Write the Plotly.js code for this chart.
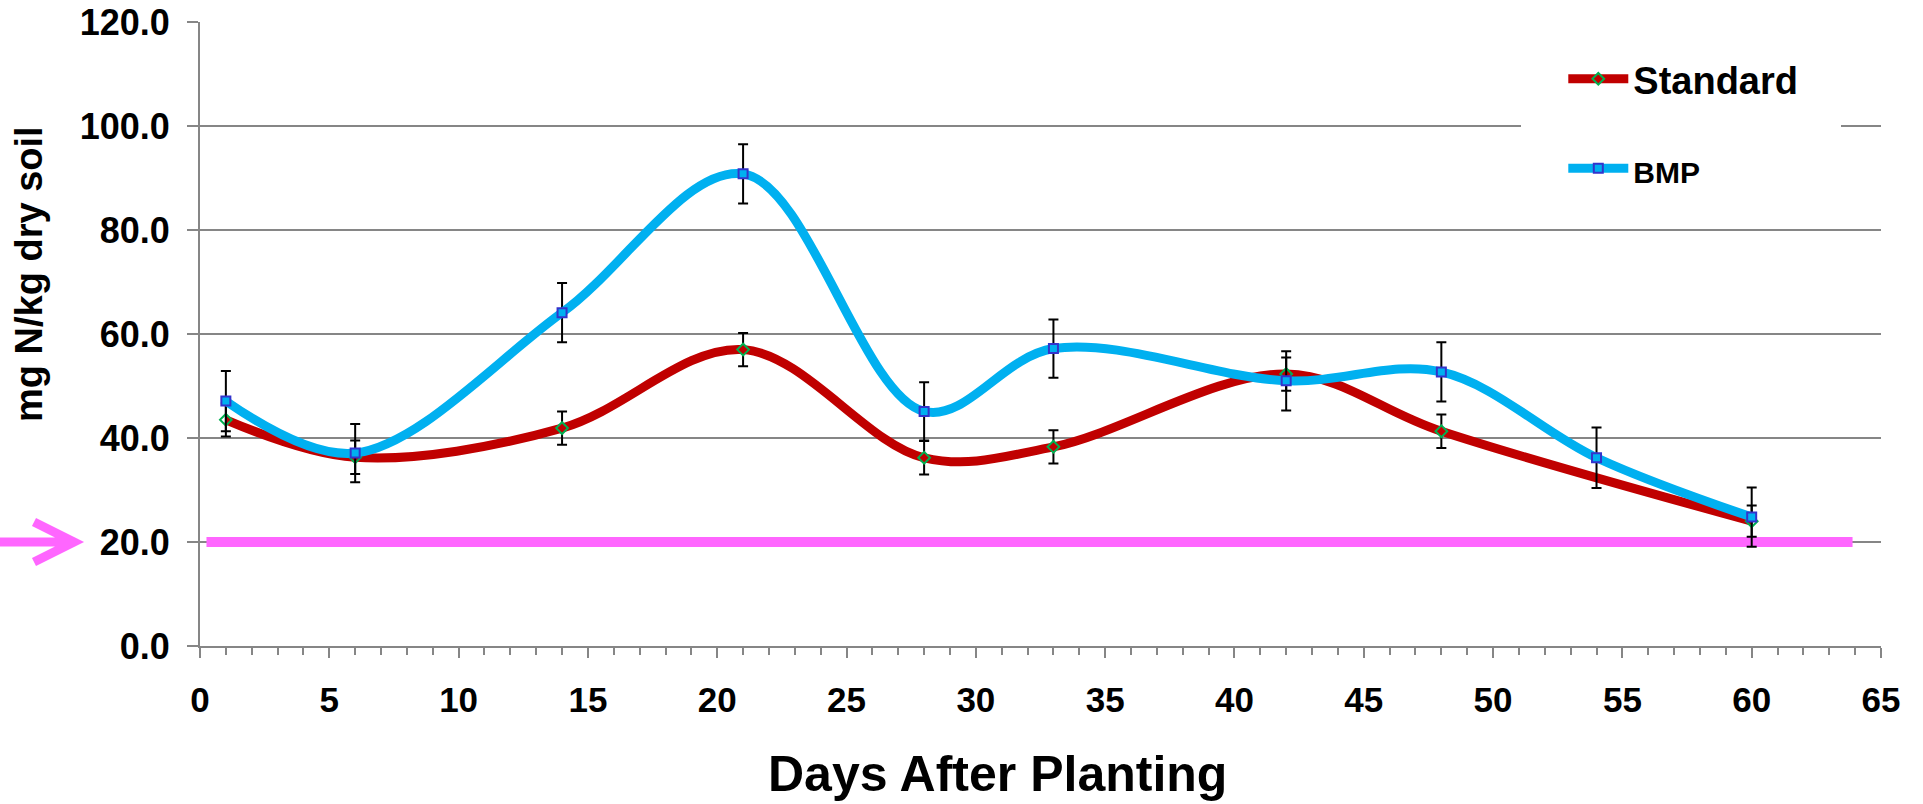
<!DOCTYPE html>
<html>
<head>
<meta charset="utf-8">
<script src="https://cdn.plot.ly/plotly-3.0.1.min.js"></script>
<style>
  html, body { margin: 0; padding: 0; background: #ffffff; }
  #chart { width: 1923px; height: 804px; }
</style>
</head>
<body>
<div id="chart"></div>
<script>
// ---- data ----
const standardDays = [1, 6, 14, 21, 28, 33, 42, 48, 60];
const standardValues = [43.5, 36.3, 41.9, 57.0, 36.2, 38.3, 52.3, 41.3, 24.0];
const standardErrors = [3.2, 3.2, 3.2, 3.2, 3.2, 3.2, 3.2, 3.2, 3.0];

const bmpDays = [1, 6, 14, 21, 28, 33, 42, 48, 54, 60];
const bmpValues = [47.1, 37.1, 64.1, 90.8, 45.1, 57.2, 51.0, 52.7, 36.2, 24.8];
const bmpErrors = [5.8, 5.6, 5.7, 5.7, 5.6, 5.6, 5.7, 5.7, 5.8, 5.7];

const thresholdDays = [0.25, 63.9];
const thresholdValues = [20, 20];
const thresholdLevel = 20;

const xTickValues = [0, 5, 10, 15, 20, 25, 30, 35, 40, 45, 50, 55, 60, 65];
const yTickValues = [0, 20, 40, 60, 80, 100, 120];

const seriesNames = ['Standard', 'BMP'];
const xTitle = 'Days After Planting';
const yTitle = 'mg N/kg dry soil';

// ---- styles ----
const FONT = '"Liberation Sans", Arial, sans-serif';
const GRID = '#868686';

const traces = [
  {
    x: thresholdDays, y: thresholdValues, type: 'scatter', mode: 'lines',
    line: { color: '#FF66FF', width: 10 }, showlegend: false, hoverinfo: 'skip'
  },
  {
    x: standardDays, y: standardValues, type: 'scatter', mode: 'lines+markers',
    name: seriesNames[0], legendgroup: 'a',
    line: { color: '#C00000', width: 9, shape: 'spline', smoothing: 1 },
    marker: { symbol: 'diamond-open', size: 9, color: '#00B050', line: { width: 2, color: '#00B050' } },
    error_y: { type: 'data', array: standardErrors, visible: true, color: '#000000', thickness: 2, width: 5 }
  },
  {
    x: bmpDays, y: bmpValues, type: 'scatter', mode: 'lines+markers',
    name: '<span style="font-size:30px">' + seriesNames[1] + '</span>', legendgroup: 'b',
    line: { color: '#00B0F0', width: 9, shape: 'spline', smoothing: 1 },
    marker: { symbol: 'square', size: 9, color: '#00B0F0', line: { width: 2, color: '#3333CC' } },
    error_y: { type: 'data', array: bmpErrors, visible: true, color: '#000000', thickness: 2, width: 5 }
  }
];

const layout = {
  width: 1923, height: 804,
  margin: { l: 200, r: 42, t: 22, b: 158, pad: 0 },
  paper_bgcolor: '#ffffff', plot_bgcolor: '#ffffff',
  font: { family: FONT, size: 36, color: '#000000', weight: 'bold' },
  showlegend: true,
  legend: {
    x: 0.811, y: 0.959, xanchor: 'left', yanchor: 'top',
    bgcolor: '#ffffff', borderwidth: 0,
    font: { family: FONT, size: 38, color: '#000000', weight: 'bold' },
    tracegroupgap: 37, itemwidth: 60
  },
  xaxis: {
    range: [0, 65], tickvals: xTickValues, ticktext: xTickValues.map(String),
    showgrid: false, zeroline: false,
    showline: true, linecolor: GRID, linewidth: 2,
    ticks: 'outside', ticklen: 10, tickwidth: 2, tickcolor: GRID,
    ticklabelstandoff: 12,
    minor: { dtick: 1, ticks: 'outside', ticklen: 7, tickwidth: 2, tickcolor: GRID, showgrid: false },
    tickfont: { family: FONT, size: 35, color: '#000000', weight: 'bold' }
  },
  yaxis: {
    range: [0, 120], tickvals: yTickValues, tickformat: '.1f',
    showgrid: true, gridcolor: GRID, gridwidth: 2, zeroline: false,
    showline: true, linecolor: GRID, linewidth: 2,
    ticks: 'outside', ticklen: 11, tickwidth: 2, tickcolor: GRID,
    ticklabelstandoff: 10,
    tickfont: { family: FONT, size: 36, color: '#000000', weight: 'bold' }
  },
  annotations: [
    {
      text: xTitle, xref: 'paper', yref: 'paper',
      x: (997 - 200) / 1681, y: -(774 - 646) / 624, xanchor: 'center', yanchor: 'middle',
      showarrow: false,
      font: { family: FONT, size: 50, color: '#000000', weight: 'bold' }
    },
    {
      text: yTitle, xref: 'paper', yref: 'paper', textangle: -90,
      x: (29 - 200) / 1681, y: (646 - 274) / 624, xanchor: 'center', yanchor: 'middle',
      showarrow: false,
      font: { family: FONT, size: 38, color: '#000000', weight: 'bold' }
    }
  ],
  shapes: [
    {
      type: 'path', xref: 'paper', yref: 'y',
      xsizemode: 'pixel', xanchor: 0, ysizemode: 'pixel', yanchor: thresholdLevel,
      path: 'M-200,0 L-128,0 M-166,20 L-126,0 L-166,-20',
      line: { color: '#FF66FF', width: 9 }
    },
    {
      type: 'rect', xref: 'paper', yref: 'paper', layer: 'above',
      x0: (1521 - 200) / 1681, x1: (1841 - 200) / 1681,
      y0: (646 - 200) / 624, y1: (646 - 40) / 624,
      fillcolor: '#ffffff', line: { width: 0 }
    }
  ]
};

Plotly.newPlot('chart', traces, layout, { displayModeBar: false, staticPlot: true });
</script>
</body>
</html>
